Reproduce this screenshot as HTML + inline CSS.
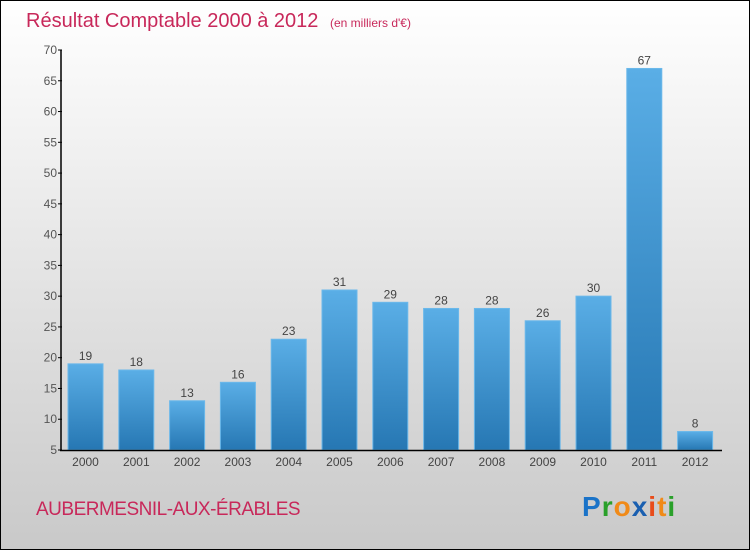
<!DOCTYPE html>
<html><head><meta charset="utf-8"><style>
body{margin:0;}
#c{width:750px;height:550px;position:relative;overflow:hidden;font-family:"Liberation Sans",sans-serif;}
</style></head><body>
<div id="c">
<svg width="750" height="550" xmlns="http://www.w3.org/2000/svg" id="svg">
<defs>
<linearGradient id="bg" x1="0" y1="0" x2="0" y2="1"><stop offset="0" stop-color="#ffffff"/><stop offset="1" stop-color="#c9c9c9"/></linearGradient>
<linearGradient id="bar" x1="0" y1="0" x2="0" y2="1"><stop offset="0" stop-color="#5aaee6"/><stop offset="1" stop-color="#2677b3"/></linearGradient>
</defs>
<rect x="0.5" y="0.5" width="749" height="549" fill="url(#bg)" stroke="#000" stroke-width="1"/>
<text x="26" y="27" font-size="20" fill="#c8285a">Résultat Comptable 2000 à 2012 <tspan font-size="12" dx="6">(en milliers d'€)</tspan></text>
<text x="36" y="515" font-size="19" fill="#c8285a" letter-spacing="-0.5">AUBERMESNIL-AUX-ÉRABLES</text>
<text x="582" y="516" font-size="28" font-weight="bold" letter-spacing="1"><tspan fill="#1a73c8">P</tspan><tspan fill="#2aa02a">r</tspan><tspan fill="#f08a18">o</tspan><tspan fill="#1a5fb0">x</tspan><tspan fill="#e84c1a">i</tspan><tspan fill="#f08a18">t</tspan><tspan fill="#2aa02a">i</tspan></text>
<g id="plot"></g>
</svg>
</div>
<script>
const categories=["2000","2001","2002","2003","2004","2005","2006","2007","2008","2009","2010","2011","2012"];
const values=[19,18,13,16,23,31,29,28,28,26,30,67,8];
const yTicks=[5,10,15,20,25,30,35,40,45,50,55,60,65,70];
const NS="http://www.w3.org/2000/svg";
const g=document.getElementById('plot');
const y=v=>450-(v-5)*(400/65);
const x=i=>85.5+i*50.8;
function mk(t,a){const e=document.createElementNS(NS,t);for(const k in a)e.setAttribute(k,a[k]);g.appendChild(e);return e;}
values.forEach((v,i)=>{
 const r=mk('rect',{x:x(i)-17.5,y:y(v),width:35,height:450-y(v),fill:'url(#bar)',stroke:'#6bb8ea','stroke-width':1});
 
 
 const t=mk('text',{x:x(i),y:y(v)-4,'font-size':12,fill:'#444','text-anchor':'middle'});
 t.textContent=v;
 
 
 const c=mk('text',{x:x(i),y:466,'font-size':12,fill:'#444','text-anchor':'middle'});
 c.textContent=categories[i];
 
 
});
yTicks.forEach(v=>{
 const l=mk('line',{x1:58,x2:62,y1:y(v),y2:y(v),stroke:'#000'});
 
 
 const t=mk('text',{x:57,y:y(v)+4,'font-size':12,fill:'#555','text-anchor':'end'});
 t.textContent=v;
 
 
});
const ya=mk('line',{x1:61,x2:61,y1:50,y2:451,stroke:'#000','stroke-width':1.5});


const xa=mk('line',{x1:60,x2:722,y1:450.5,y2:450.5,stroke:'#000','stroke-width':1.5});


</script>
</body></html>
